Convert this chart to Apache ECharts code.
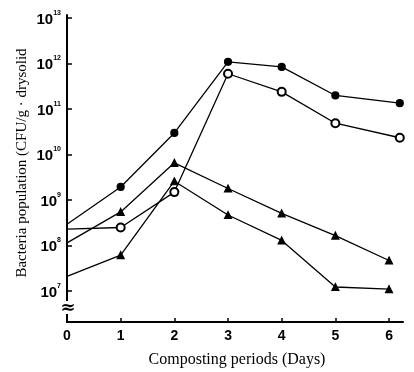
<!DOCTYPE html>
<html>
<head>
<meta charset="utf-8">
<script src="https://cdn.jsdelivr.net/npm/echarts@6/dist/echarts.min.js"></script>
<style>html,body{margin:0;padding:0;background:#fff;}#c{width:414px;height:372px;}</style>
</head>
<body>
<div id="c"></div>
<script>
// Composting days
const days = [0, 1, 2, 3, 4, 5, 6];
const daysCircles = [0, 1, 2, 3, 4, 5, 6.2];
// Bacteria population, CFU/g dry solid
const filledCircle = [2.95e8, 1.95e9, 3.0e10, 1.1e12, 8.5e11, 2.0e11, 1.35e11];
const openCircle   = [2.3e8, 2.5e8, 1.5e9, 6.0e11, 2.4e11, 4.9e10, 2.35e10];
const triangleUpper = [1.15e8, 5.5e8, 6.6e9, 1.8e9, 5.1e8, 1.66e8, 4.7e7];
const triangleLower = [2.1e7, 6.2e7, 2.6e9, 4.7e8, 1.3e8, 1.23e7, 1.1e7];
// tick exponents (10^n)
const yTickExponents = [7, 8, 9, 10, 11, 12, 13];
const xTickLabels = [0, 1, 2, 3, 4, 5, 6];

// day-0 starting values are drawn without a marker, as in the original figure
const toPts = (xs, ys) => xs.map((x, i) => {
  const item = {value: [x, Math.log10(ys[i])]};
  if (x === 0) item.symbol = 'none';
  return item;
});

const chart = echarts.init(document.getElementById('c'), null, {renderer: 'canvas'});
const lineStyle = {color: '#000', width: 1.3};
function mk(name, xs, ys, symbol, size) {
  return {
    name, type: 'line', data: toPts(xs, ys), symbol, symbolSize: size,
    showSymbol: true, lineStyle, itemStyle: {color: '#000', borderColor: '#000', borderWidth: 1.2},
    emphasis: {disabled: true}, animation: false, z: 3
  };
}
chart.setOption({
  backgroundColor: '#fff',
  animation: false,
  grid: {left: 67, right: 11, top: 15, bottom: 50, containLabel: false},
  xAxis: {
    type: 'value', min: 0, max: 6.26,
    axisLine: {show: true, lineStyle: {color: '#000', width: 2}},
    axisTick: {show: true, inside: true, length: 4, customValues: xTickLabels, lineStyle: {color: '#000', width: 1.5}},
    axisLabel: {customValues: xTickLabels, margin: 7, color: '#000', fontSize: 14, fontWeight: 'bold', fontFamily: 'Liberation Sans'},
    splitLine: {show: false}
  },
  yAxis: {
    type: 'value', min: 6.32, max: 13.07,
    axisLine: {show: true, lineStyle: {color: '#000', width: 2}},
    axisTick: {show: true, inside: true, length: 5, customValues: yTickExponents, lineStyle: {color: '#000', width: 1.5}},
    axisLabel: {
      customValues: yTickExponents, margin: 6,
      formatter: v => '{b|10}{s|' + v + '}',
      rich: {
        b: {fontSize: 15, fontWeight: 'bold', fontFamily: 'Liberation Sans', color: '#000', lineHeight: 18, verticalAlign: 'bottom'},
        s: {fontSize: 7, fontWeight: 'bold', fontFamily: 'Liberation Sans', color: '#000', lineHeight: 18, verticalAlign: 'top'}
      }
    },
    splitLine: {show: false}
  },
  graphic: [
    {type: 'rect', z: 100, shape: {x: 62, y: 301, width: 12, height: 13}, style: {fill: '#fff'}},
    {type: 'text', z: 101, x: 68, y: 308, style: {text: '≈', font: 'bold 18px "DejaVu Sans"', fill: '#000', align: 'center', verticalAlign: 'middle'}},
    {type: 'text', z: 101, x: 22, y: 163, rotation: Math.PI / 2,
      style: {text: 'Bacteria population (CFU/g · drysolid', font: '15px "Liberation Serif"', fill: '#000', align: 'center', verticalAlign: 'middle'}},
    {type: 'text', z: 101, x: 237, y: 360,
      style: {text: 'Composting periods (Days)', font: '16px "Liberation Serif"', fill: '#000', align: 'center', verticalAlign: 'middle'}}
  ],
  series: [
    mk('filled circle', daysCircles, filledCircle, 'circle', 7),
    mk('open circle', daysCircles, openCircle, 'emptyCircle', 8),
    mk('triangle upper', days, triangleUpper, 'triangle', 7),
    mk('triangle lower', days, triangleLower, 'triangle', 7)
  ]
});
</script>
</body>
</html>
